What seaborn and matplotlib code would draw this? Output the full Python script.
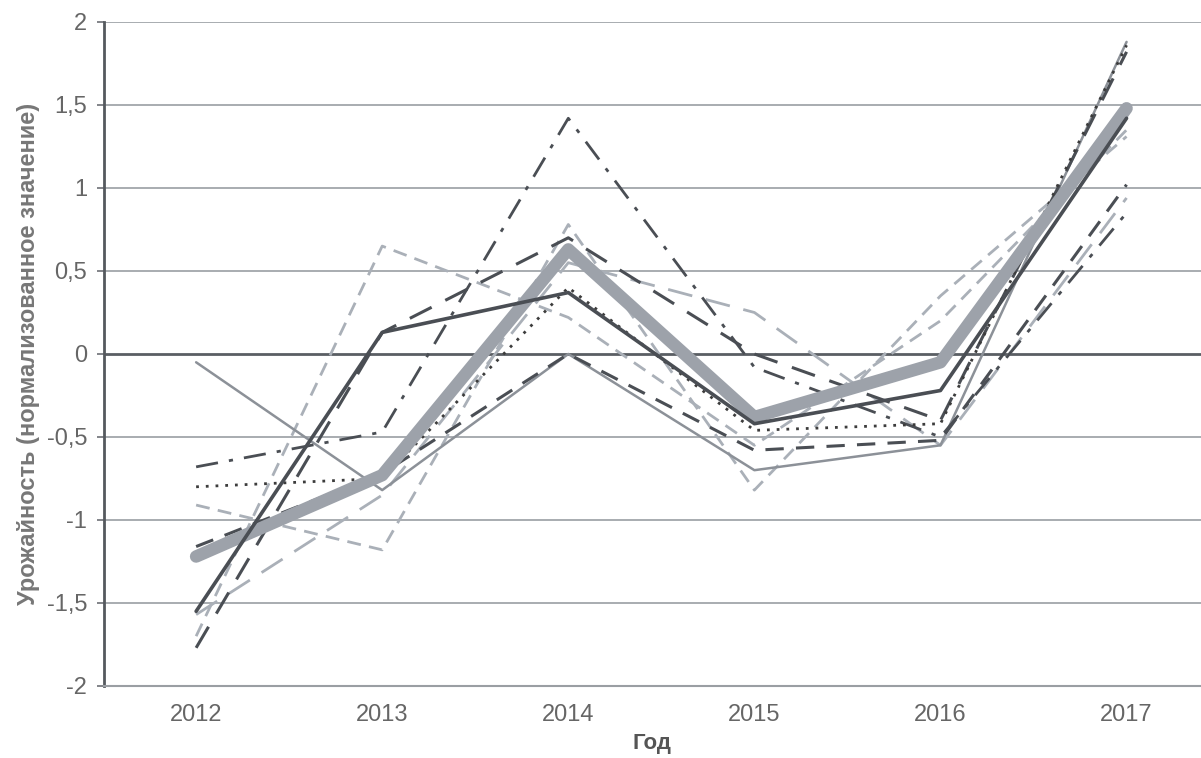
import matplotlib
matplotlib.use("Agg")
import matplotlib.pyplot as plt
import seaborn as sns
import pandas as pd

years = ["2012", "2013", "2014", "2015", "2016", "2017"]

mean_line = [-1.22, -0.73, 0.63, -0.38, -0.05, 1.48]
s_dark_solid = [-1.55, 0.13, 0.37, -0.42, -0.22, 1.42]
s_grey_solid = [-0.05, -0.82, 0.00, -0.70, -0.55, 1.88]
s_dotted = [-0.80, -0.75, 0.40, -0.46, -0.42, 1.86]
s_dashdot = [-0.68, -0.47, 1.42, -0.08, -0.50, 0.85]
s_longdash = [-1.77, 0.13, 0.70, 0.00, -0.40, 1.82]
s_dash = [-1.16, -0.72, 0.00, -0.58, -0.52, 1.02]
s_light_dash1 = [-0.91, -1.18, 0.78, -0.82, 0.35, 1.31]
s_light_dash2 = [-1.70, 0.65, 0.22, -0.55, 0.20, 1.35]
s_light_longdash = [-1.57, -0.85, 0.55, 0.25, -0.55, 0.94]

y_ticks = [-2, -1.5, -1, -0.5, 0, 0.5, 1, 1.5, 2]
y_tick_labels = ["-2", "-1,5", "-1", "-0,5", "0", "0,5", "1", "1,5", "2"]

sns.set_style("white")
plt.rcParams["font.family"] = ["Liberation Sans", "DejaVu Sans"]

fig = plt.figure(figsize=(12.01, 7.58), dpi=100)
ax = fig.add_axes([0.0866, 0.095, 0.9134, 0.876])

x = list(range(len(years)))

DARK = "#4a4e54"
GREY = "#8c9198"
LIGHT = "#aab0b8"

series = [
    (s_light_longdash, LIGHT, 2.0, (0, (9, 5))),
    (s_light_dash1, LIGHT, 2.0, (0, (5, 3))),
    (s_light_dash2, LIGHT, 2.0, (0, (5, 3))),
    (s_grey_solid, GREY, 1.8, "-"),
    (s_dash, DARK, 2.2, (0, (6, 4))),
    (s_longdash, DARK, 2.2, (0, (8, 5))),
    (s_dashdot, DARK, 2.0, (0, (8, 4, 1.5, 4))),
    (s_dotted, "#3c3c3c", 2.0, (0, (1, 2.5))),
]

for vals, col, lw, ls in series:
    df = pd.DataFrame({"x": x, "y": vals})
    sns.lineplot(data=df, x="x", y="y", ax=ax, color=col, linewidth=lw,
                 linestyle=ls, legend=False)

df = pd.DataFrame({"x": x, "y": mean_line})
sns.lineplot(data=df, x="x", y="y", ax=ax, color="#9da2aa", linewidth=9,
             solid_capstyle="round", solid_joinstyle="round", legend=False, zorder=5)
df = pd.DataFrame({"x": x, "y": s_dark_solid})
sns.lineplot(data=df, x="x", y="y", ax=ax, color=DARK, linewidth=2.6,
             legend=False, zorder=6)

ax.set_xlim(-0.495, 5.40)
ax.set_ylim(-2, 2)
ax.set_yticks(y_ticks)
ax.set_yticklabels(y_tick_labels)
ax.set_xticks(x)
ax.set_xticklabels(years)

for yv in y_ticks:
    if yv == 0:
        ax.axhline(0, color="#5a5e63", linewidth=2.0, zorder=1)
    elif yv == -2:
        pass
    else:
        ax.axhline(yv, color="#9a9ea3", linewidth=1.2, zorder=0)

for side in ["top", "right"]:
    ax.spines[side].set_visible(False)
ax.spines["left"].set_color("#55595e")
ax.spines["left"].set_linewidth(2.0)
ax.spines["bottom"].set_color("#9a9ea3")
ax.spines["bottom"].set_linewidth(1.5)

ax.tick_params(axis="y", which="major", length=5, width=1.2, color="#6d7075",
               labelsize=17, labelcolor="#666666", direction="out", left=True, pad=7)
ax.tick_params(axis="x", which="major", length=0, labelsize=17,
               labelcolor="#666666", pad=13)

ax.set_xlabel("Год", fontsize=16, fontweight="bold", color="#555555", va="center")
ax.xaxis.set_label_coords((652 - 104) / 1097, (686 - 744) / 664)
ax.set_ylabel("Урожайность (нормализованное значение)", fontsize=17,
              fontweight="bold", color="#777777", va="center")
ax.yaxis.set_label_coords((28 - 104) / 1097, 0.5)

fig.savefig("out.png", dpi=100)
